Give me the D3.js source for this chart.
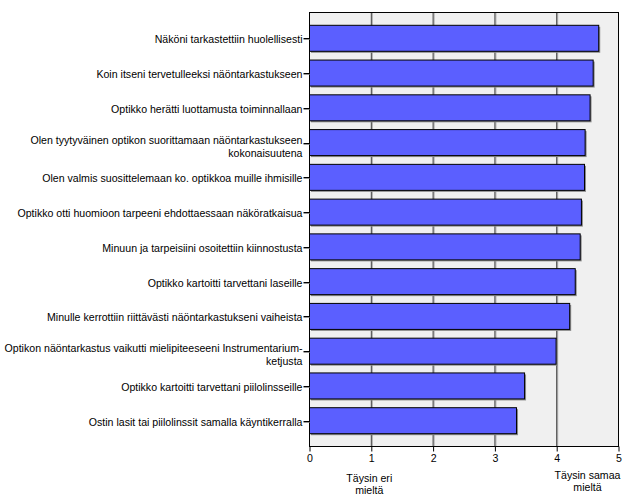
<!DOCTYPE html>
<html><head><meta charset="utf-8">
<script src="https://cdn.jsdelivr.net/npm/d3@7/dist/d3.min.js"></script>
<style>body{margin:0;background:#fff}svg{display:block}text{font-family:"Liberation Sans",Arial,sans-serif;font-size:10.6px;fill:#000}</style>
</head><body><svg id="c" width="626" height="501"></svg>
<script>
const categories = [
  "Näköni tarkastettiin huolellisesti",
  "Koin itseni tervetulleeksi näöntarkastukseen",
  "Optikko herätti luottamusta toiminnallaan",
  "Olen tyytyväinen optikon suorittamaan näöntarkastukseen\nkokonaisuutena",
  "Olen valmis suosittelemaan ko. optikkoa muille ihmisille",
  "Optikko otti huomioon tarpeeni ehdottaessaan näköratkaisua",
  "Minuun ja tarpeisiini osoitettiin kiinnostusta",
  "Optikko kartoitti tarvettani laseille",
  "Minulle kerrottiin riittävästi näöntarkastukseni vaiheista",
  "Optikon näöntarkastus vaikutti mielipiteeseeni Instrumentarium-\nketjusta",
  "Optikko kartoitti tarvettani piilolinsseille",
  "Ostin lasit tai piilolinssit samalla käyntikerralla"
];
const values = [4.68, 4.59, 4.54, 4.46, 4.45, 4.40, 4.38, 4.30, 4.21, 3.99, 3.48, 3.35];
const xTicks = [0, 1, 2, 3, 4, 5];
const xNotes = [{v: 1, lines: ["Täysin eri", "mieltä"]}, {v: 5, lines: ["Täysin samaa", "mieltä"]}];

const svg = d3.select("#c");
const L = 309.5, T = 12.5, R = 618.5, B = 446.5;
const x = d3.scaleLinear().domain([0, 5]).range([L, R]);
const y = d3.scaleBand().domain(categories).range([T, B]).paddingInner(0.252).paddingOuter(0.368);

svg.append("rect").attr("x", L).attr("y", T).attr("width", R - L).attr("height", B - T).attr("fill", "#f0f0f0");

// gridlines
const g = svg.append("g");
xTicks.slice(1, -1).forEach(t => {
  g.append("line").attr("x1", x(t) + 1).attr("x2", x(t) + 1).attr("y1", T).attr("y2", B).attr("stroke", "#a8a8a8").attr("stroke-width", 1);
  g.append("line").attr("x1", x(t)).attr("x2", x(t)).attr("y1", T).attr("y2", B).attr("stroke", "#404040").attr("stroke-width", 1);
});

// bars
const bars = svg.append("g");
bars.selectAll("rect.sh").data(values).join("rect").attr("class", "sh")
  .attr("x", x(0) + 1.5).attr("y", (d, i) => y(categories[i]) + 1.5)
  .attr("width", d => x(d) - x(0)).attr("height", y.bandwidth())
  .attr("fill", "#8c8c8c");
bars.selectAll("rect.b").data(values).join("rect").attr("class", "b")
  .attr("x", x(0)).attr("y", (d, i) => y(categories[i]))
  .attr("width", d => x(d) - x(0)).attr("height", y.bandwidth())
  .attr("fill", "#5b5fff").attr("stroke", "#000").attr("stroke-width", 1);

// frame
svg.append("rect").attr("x", L).attr("y", T).attr("width", R - L).attr("height", B - T).attr("fill", "none").attr("stroke", "#000").attr("stroke-width", 1);

// y axis ticks & labels
const ya = svg.append("g");
categories.forEach(c => {
  const cy = Math.round(y(c) + y.bandwidth() / 2) + 0.5;
  ya.append("line").attr("x1", L - 6).attr("x2", L).attr("y1", cy + 1).attr("y2", cy + 1).attr("stroke", "#999");
  ya.append("line").attr("x1", L - 6).attr("x2", L).attr("y1", cy).attr("y2", cy).attr("stroke", "#000");
  const lines = c.split("\n");
  const t = ya.append("text").attr("text-anchor", "end");
  if (lines.length === 1) {
    t.append("tspan").attr("x", L - 7).attr("y", cy + 4).text(lines[0]);
  } else {
    lines.forEach((ln, i) => t.append("tspan").attr("x", L - 7).attr("y", cy + 0.5 + i * 12.5).text(ln));
  }
});

// x axis
const xa = svg.append("g").attr("transform", `translate(0,${B})`)
  .call(d3.axisBottom(x).tickValues(xTicks).tickFormat(d3.format("d")).tickSize(5).tickPadding(3));
xa.select(".domain").remove();
xa.selectAll(".tick line").attr("stroke", "#000");
xa.selectAll(".tick text").attr("font-size", "11px").attr("font-family", '"Liberation Sans",Arial,sans-serif');

// notes
const n1 = svg.append("text").attr("text-anchor", "middle");
n1.append("tspan").attr("x", x(xNotes[0].v) - 2).attr("y", 482).text(xNotes[0].lines[0]);
n1.append("tspan").attr("x", x(xNotes[0].v) - 2).attr("y", 494).text(xNotes[0].lines[1]);
const n2 = svg.append("text").attr("text-anchor", "middle");
const cx2 = x(xNotes[1].v) - 31;
n2.append("tspan").attr("x", cx2).attr("y", 478.5).text(xNotes[1].lines[0]);
n2.append("tspan").attr("x", cx2).attr("y", 490.5).text(xNotes[1].lines[1]);
</script></body></html>
